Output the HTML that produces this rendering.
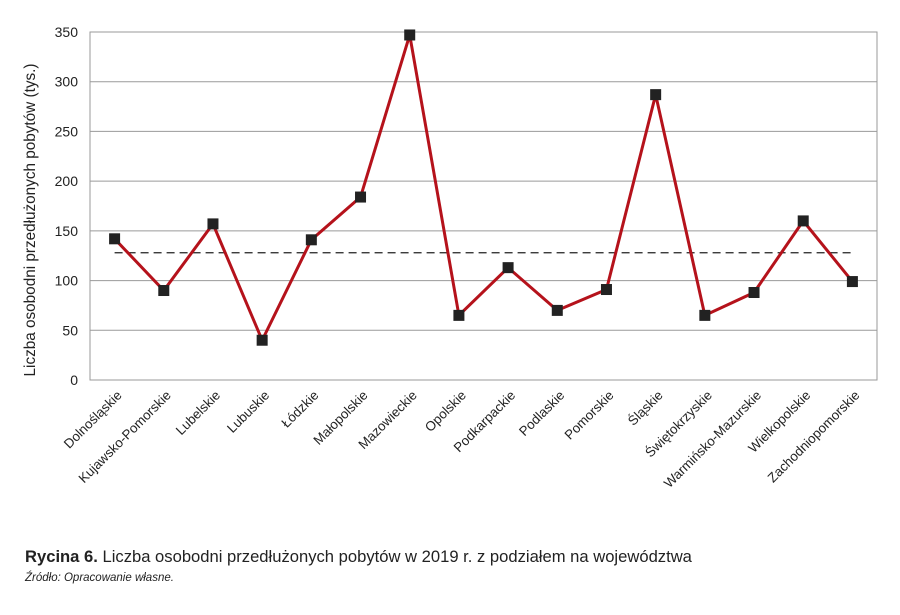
<!DOCTYPE html>
<html><head><meta charset="utf-8"><style>
body{margin:0;background:#fff;width:900px;height:610px;overflow:hidden;font-family:"Liberation Sans",sans-serif;}
</style></head><body>
<svg id="chart" width="900" height="610" xmlns="http://www.w3.org/2000/svg" font-family="Liberation Sans, sans-serif">
<g id="grid"></g>
<g id="axes"></g>
<g id="marks"></g>
<text transform="translate(35,220) rotate(-90)" text-anchor="middle" font-size="15.3" fill="#222">Liczba osobodni przedłużonych pobytów (tys.)</text>
<text x="25" y="562" font-size="16.6" fill="#222"><tspan font-weight="bold">Rycina 6.</tspan> Liczba osobodni przedłużonych pobytów w 2019 r. z podziałem na województwa</text>
<text x="25" y="581" font-size="11.5" font-style="italic" fill="#222">Źródło: Opracowanie własne.</text>
</svg>
<script>
const categories=["Dolnośląskie","Kujawsko-Pomorskie","Lubelskie","Lubuskie","Łódzkie","Małopolskie","Mazowieckie","Opolskie","Podkarpackie","Podlaskie","Pomorskie","Śląskie","Świętokrzyskie","Warmińsko-Mazurskie","Wielkopolskie","Zachodniopomorskie"];
const values=[142,90,157,40,141,184,347,65,113,70,91,287,65,88,160,99];
const averageValue=128;
const yTicks=[0,50,100,150,200,250,300,350];
const NS="http://www.w3.org/2000/svg";
const L=90,R=877,T=32,B=380,yMax=350;
const bw=(R-L)/categories.length;
const x=i=>L+bw*(i+0.5);
const y=v=>B-(v/yMax)*(B-T);
function mk(tag,attrs,parent){const e=document.createElementNS(NS,tag);for(const k in attrs)e.setAttribute(k,attrs[k]);parent.appendChild(e);return e;}
const grid=document.getElementById('grid'),axes=document.getElementById('axes'),marks=document.getElementById('marks');
yTicks.forEach(t=>{
  const g=mk('line',{x1:L,x2:R,y1:y(t),y2:y(t),stroke:'#9a9a9a','stroke-width':1},grid);
  
  
  const tx=mk('text',{x:L-12,y:y(t)+5,'text-anchor':'end','font-size':14,fill:'#222'},axes);
  tx.textContent=t;
  
  
});
const fr=mk('rect',{x:L,y:T,width:R-L,height:B-T,fill:'none',stroke:'#9a9a9a','stroke-width':1},grid);


categories.forEach((c,i)=>{
  const tx=mk('text',{transform:`translate(${x(i)+8},${B+16}) rotate(-45)`,'text-anchor':'end','font-size':13.3,fill:'#222'},axes);
  tx.textContent=c;
  
  
});
const avg=mk('line',{x1:x(0),x2:x(categories.length-1),y1:y(averageValue),y2:y(averageValue),stroke:'#222','stroke-width':1.3,'stroke-dasharray':'8,5'},marks);


const pl=mk('polyline',{points:values.map((v,i)=>x(i)+','+y(v)).join(' '),fill:'none',stroke:'#b5121b','stroke-width':3,'stroke-linejoin':'miter'},marks);


values.forEach((v,i)=>{
  const r=mk('rect',{x:x(i)-5.5,y:y(v)-5.5,width:11,height:11,fill:'#222'},marks);
  
  
});
</script>
</body></html>
